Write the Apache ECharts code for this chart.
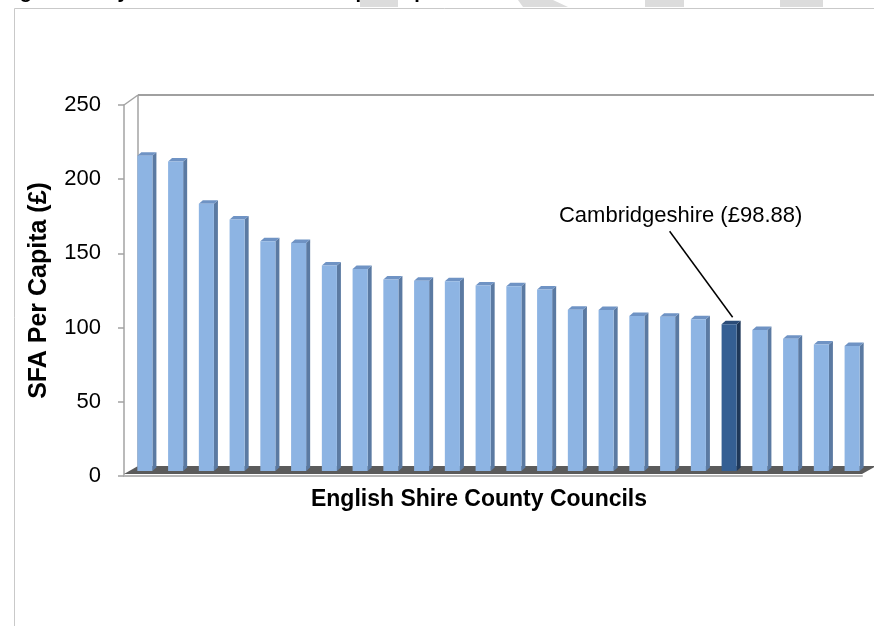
<!DOCTYPE html>
<html>
<head>
<meta charset="utf-8">
<script src="https://cdn.jsdelivr.net/npm/echarts@6/dist/echarts.min.js"></script>
<style>
  html, body { margin: 0; padding: 0; background: #ffffff; }
  #chart { width: 874px; height: 626px; }
</style>
</head>
<body>
<div id="chart"></div>
<script>
// Councils ranked by SFA per head (unlabelled on the axis)
const categories = ['1', '2', '3', '4', '5', '6', '7', '8', '9', '10', '11', '12',
                    '13', '14', '15', '16', '17', '18', '19', '20', '21', '22', '23', '24'];
// SFA per capita (£) for each council, highest first
const sfaPerCapita = [212.4, 208.5, 180.1, 169.4, 154.8, 153.7, 138.4, 136.2, 129.0, 128.2, 127.9, 125.0,
                      124.5, 122.3, 108.6, 108.5, 104.4, 104.0, 102.2, 98.88, 95.0, 89.2, 85.3, 84.2];
const highlightIndex = 19;
const highlightName = 'Cambridgeshire';
const yTickValues = [0, 50, 100, 150, 200, 250];

const FONT = '"Liberation Sans", Arial, sans-serif';
// pseudo-3D geometry: depth of the floor/wall and the bars' position within it
const DEPTH = [14, -10];
const BAR_SHIFT = [5.5, -5];
const BAR_SIDE = [4, -3.5];

const normalFaces = { front: '#8db4e3', side: '#5b7aa2', top: '#6f93c4' };
const highlightFaces = { front: '#355f93', side: '#1f3859', top: '#2b4c78' };

function renderBar(params, api) {
  const i = api.value(0);
  const v = api.value(1);
  const base = api.coord([i, 0]);
  const top = api.coord([i, v]);
  const w = api.size([1, 0])[0] * 0.49;
  const x0 = base[0] + BAR_SHIFT[0] - w / 2;
  const x1 = x0 + w;
  const yb = base[1] + BAR_SHIFT[1];
  const yt = top[1] + BAR_SHIFT[1];
  const c = i === highlightIndex ? highlightFaces : normalFaces;
  const children = [
    { type: 'polygon', shape: { points: [[x1, yt], [x1 + BAR_SIDE[0], yt + BAR_SIDE[1]], [x1 + BAR_SIDE[0], yb + BAR_SIDE[1]], [x1, yb]] },
      style: { fill: c.side } },
    { type: 'polygon', shape: { points: [[x0, yt], [x1, yt], [x1 + BAR_SIDE[0], yt + BAR_SIDE[1]], [x0 + BAR_SIDE[0], yt + BAR_SIDE[1]]] },
      style: { fill: c.top } },
    { type: 'rect', shape: { x: x0, y: yt, width: w, height: yb - yt }, style: { fill: c.front } }
  ];
  if (i === highlightIndex) {
    // callout: leader line from the caption down to the bar top
    const cx = (x0 + x1) / 2;
    children.push({
      type: 'line',
      shape: { x1: cx - 59.5, y1: yt - 93, x2: cx + 3.5, y2: yt - 7 },
      style: { stroke: '#000000', lineWidth: 1.5 }
    });
    children.push({
      type: 'text',
      style: {
        x: cx - 48.5, y: yt - 108,
        text: highlightName + ' (£' + v.toFixed(2) + ')',
        font: '22px ' + FONT, fill: '#000000',
        align: 'center', verticalAlign: 'middle'
      }
    });
  }
  return { type: 'group', children: children };
}

function renderWalls(params, api) {
  const cs = params.coordSys;
  const x = cs.x, y = cs.y, w = cs.width, h = cs.height;
  const yB = y + h;
  const dx = DEPTH[0], dy = DEPTH[1];
  const wall = { stroke: '#a3a3a3', lineWidth: 1.5 };
  return {
    type: 'group',
    children: [
      { type: 'polygon', shape: { points: [[x, yB - 2], [x + w, yB - 2], [x + w + dx, yB + dy], [x + dx, yB + dy]] },
        style: { fill: '#5b5b5b' } },
      { type: 'line', shape: { x1: x + dx, y1: y + dy, x2: x + dx, y2: yB + dy }, style: wall },
      { type: 'line', shape: { x1: x, y1: y, x2: x + dx, y2: y + dy }, style: wall },
      { type: 'line', shape: { x1: x + dx, y1: y + dy, x2: x + w + 40, y2: y + dy }, style: { stroke: '#a0a0a0', lineWidth: 2 } }
    ]
  };
}

const chart = echarts.init(document.getElementById('chart'), null, { renderer: 'canvas' });

chart.setOption({
  animation: false,
  backgroundColor: '#ffffff',
  grid: { left: 124, top: 105, width: 738, height: 371 },
  graphic: [
    // page frame
    { type: 'rect', z: 0, shape: { x: 14.5, y: 8.5, width: 1000, height: 800 },
      style: { fill: null, stroke: '#c9c9c9', lineWidth: 1 } },
    // watermark letters running off the top edge
    { type: 'polygon', z: 1, shape: { points: [[360, 0], [398, 0], [398, 7], [360, 7]] }, style: { fill: '#dcdcdc' } },
    { type: 'polygon', z: 1, shape: { points: [[518, 0], [553, 0], [568, 7], [523, 7]] }, style: { fill: '#dcdcdc' } },
    { type: 'polygon', z: 1, shape: { points: [[645, 0], [684, 0], [684, 7], [645, 7]] }, style: { fill: '#dcdcdc' } },
    { type: 'polygon', z: 1, shape: { points: [[780, 0], [823, 0], [823, 7], [780, 7]] }, style: { fill: '#dcdcdc' } },
    // figure caption, mostly above the page edge
    { type: 'text', z: 2, style: {
        x: 2, y: -8, text: 'Figure 2: Key shire council SFA total per capita',
        font: 'bold 20px ' + FONT, fill: '#000000', align: 'left', verticalAlign: 'middle' } }
  ],
  xAxis: {
    type: 'category',
    data: categories,
    name: 'English Shire County Councils',
    nameLocation: 'middle',
    nameGap: 12,
    nameTextStyle: { fontFamily: FONT, fontSize: 23, fontWeight: 'bold', color: '#000000',
                     verticalAlign: 'top', padding: [0, 28, 0, 0] },
    axisLine: { show: true, lineStyle: { color: '#b8b8b8', width: 2 } },
    axisTick: { show: false },
    axisLabel: { show: false },
    splitLine: { show: false }
  },
  yAxis: {
    type: 'value',
    min: yTickValues[0],
    max: yTickValues[yTickValues.length - 1],
    interval: yTickValues[1] - yTickValues[0],
    name: 'SFA Per Capita (£)',
    nameLocation: 'middle',
    nameRotate: 90,
    nameGap: 72,
    nameTextStyle: { fontFamily: FONT, fontSize: 25, fontWeight: 'bold', color: '#000000' },
    axisLine: { show: true, lineStyle: { color: '#a3a3a3', width: 1.5 } },
    axisTick: { show: true, inside: false, length: 6, lineStyle: { color: '#a3a3a3', width: 1.5 } },
    axisLabel: { margin: 23, fontFamily: FONT, fontSize: 22, color: '#000000' },
    splitLine: { show: false }
  },
  series: [
    {
      type: 'custom',
      name: 'walls',
      renderItem: renderWalls,
      data: [[0, 0]],
      silent: true,
      clip: false,
      z: 1
    },
    {
      type: 'custom',
      name: 'SFA per capita',
      renderItem: renderBar,
      encode: { x: 0, y: 1 },
      data: sfaPerCapita.map((v, i) => [i, v]),
      clip: false,
      z: 2
    }
  ]
});
</script>
</body>
</html>
